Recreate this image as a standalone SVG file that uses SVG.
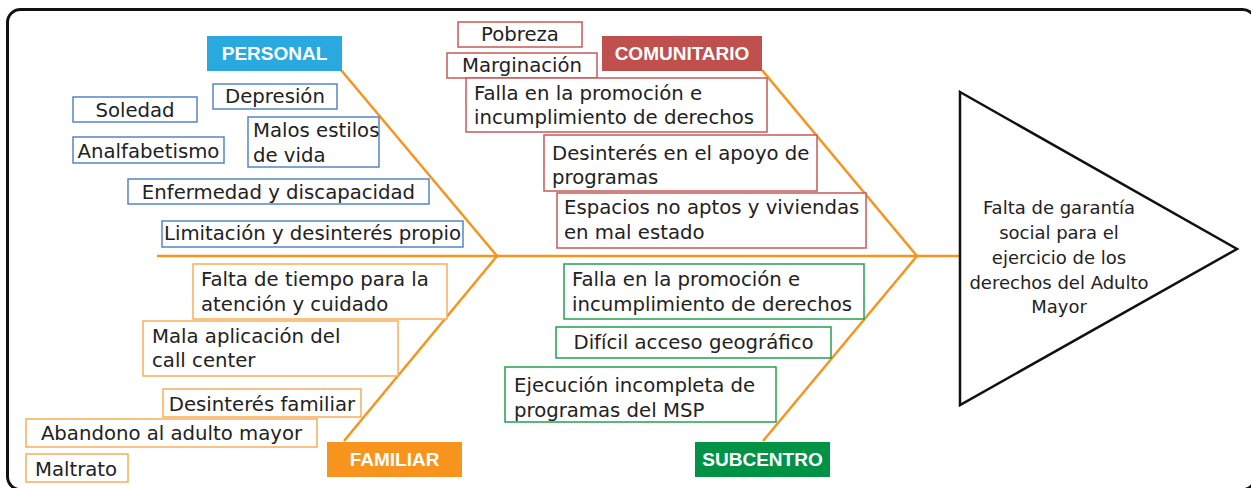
<svg xmlns="http://www.w3.org/2000/svg" width="1251" height="488" viewBox="0 0 1251 488">
<style>
.t{font-family:"DejaVu Sans","Liberation Sans",sans-serif;font-size:19.7px;fill:#222}
.c{text-anchor:middle}
.h{font-family:"Liberation Sans","DejaVu Sans",sans-serif;font-size:19px;font-weight:bold;fill:#fff;text-anchor:middle}
.b{fill:#fff;stroke:#5585c5;stroke-width:1.5}
.r{fill:#fff;stroke:#c55a58;stroke-width:1.5}
.o{fill:#fff;stroke:#f8ae58;stroke-width:1.5}
.g{fill:#fff;stroke:#22a050;stroke-width:1.5}
.bone{stroke:#f7941d;stroke-width:2.5;fill:none}
</style>
<rect x="0" y="0" width="1251" height="488" fill="#fff"/>
<rect x="7.5" y="9.5" width="1248" height="480" rx="13" fill="none" stroke="#111" stroke-width="3"/>
<g id="connectors">
<line class="bone" x1="157" y1="256" x2="960" y2="256"/>
<line class="bone" x1="341" y1="70" x2="497" y2="256"/>
<line class="bone" x1="497" y1="256" x2="344" y2="441"/>
<line class="bone" x1="762" y1="70" x2="917" y2="256"/>
<line class="bone" x1="917" y1="256" x2="763" y2="441"/>
</g>
<g id="efecto">
<polygon points="960,92 1237,249 960,405" fill="#fff" stroke="#111" stroke-width="2.5"/>
<text class="t c" style="font-size:18px" x="1059"><tspan x="1059" y="214">Falta de garantía</tspan><tspan x="1059" y="239">social para el</tspan><tspan x="1059" y="264">ejercicio de los</tspan><tspan x="1059" y="289">derechos del Adulto</tspan><tspan x="1059" y="313">Mayor</tspan></text>
</g>
<g id="personal">
<rect x="207" y="36" width="135" height="35" fill="#29a9e0"/>
<text class="h" x="274.5" y="60">PERSONAL</text>
</g>
<g id="comunitario">
<rect x="602" y="36" width="160" height="35" fill="#c0504d"/>
<text class="h" x="682" y="60">COMUNITARIO</text>
</g>
<g id="familiar">
<rect x="327" y="442" width="135" height="35" fill="#f7941d"/>
<text class="h" x="394.5" y="466">FAMILIAR</text>
</g>
<g id="subcentro">
<rect x="695" y="442" width="135" height="35" fill="#009245"/>
<text class="h" x="762.5" y="466">SUBCENTRO</text>
</g>
<g id="soledad"><rect class="b" x="73" y="97" width="124" height="25"/><text class="t c" x="135" y="117">Soledad</text></g>
<g id="depresion"><rect class="b" x="213" y="84" width="124" height="25"/><text class="t c" x="275" y="103">Depresión</text></g>
<g id="analfabetismo"><rect class="b" x="73" y="137" width="151" height="26"/><text class="t c" x="148.5" y="157.5">Analfabetismo</text></g>
<g id="malos-estilos"><rect class="b" x="248" y="117" width="131" height="50"/><text class="t"><tspan x="253" y="137">Malos estilos</tspan><tspan x="253" y="161.5">de vida</tspan></text></g>
<g id="enfermedad"><rect class="b" x="128" y="179" width="301" height="25"/><text class="t c" x="278.5" y="199">Enfermedad y discapacidad</text></g>
<g id="limitacion"><rect class="b" x="162" y="221" width="301" height="26"/><text class="t c" x="312.5" y="239.5">Limitación y desinterés propio</text></g>
<g id="pobreza"><rect class="r" x="458" y="22" width="124" height="25"/><text class="t c" x="520" y="40.5">Pobreza</text></g>
<g id="marginacion"><rect class="r" x="447" y="53" width="150" height="25"/><text class="t c" x="522" y="71.5">Marginación</text></g>
<g id="falla-com"><rect class="r" x="466" y="78" width="301" height="54"/><text class="t"><tspan x="474" y="100">Falla en la promoción e</tspan><tspan x="474" y="124">incumplimiento de derechos</tspan></text></g>
<g id="desinteres-prog"><rect class="r" x="544" y="135" width="273" height="56"/><text class="t"><tspan x="552" y="160">Desinterés en el apoyo de</tspan><tspan x="552" y="184">programas</tspan></text></g>
<g id="espacios"><rect class="r" x="557" y="193" width="309" height="55"/><text class="t"><tspan x="564" y="214">Espacios no aptos y viviendas</tspan><tspan x="564" y="239">en mal estado</tspan></text></g>
<g id="falta-tiempo"><rect class="o" x="193" y="264" width="254" height="55"/><text class="t"><tspan x="201" y="285.5">Falta de tiempo para la</tspan><tspan x="201" y="311">atención y cuidado</tspan></text></g>
<g id="mala-aplicacion"><rect class="o" x="143" y="321" width="255" height="55"/><text class="t"><tspan x="152" y="342.5">Mala aplicación del</tspan><tspan x="152" y="367">call center</tspan></text></g>
<g id="desinteres-familiar"><rect class="o" x="163" y="389" width="198" height="28"/><text class="t c" x="262" y="410.5">Desinterés familiar</text></g>
<g id="abandono"><rect class="o" x="26" y="419" width="291" height="28"/><text class="t c" x="171.5" y="440">Abandono al adulto mayor</text></g>
<g id="maltrato"><rect class="o" x="26" y="454" width="102" height="28"/><text class="t c" x="76" y="476">Maltrato</text></g>
<g id="falla-sub"><rect class="g" x="564" y="264" width="300" height="55"/><text class="t"><tspan x="572" y="285.5">Falla en la promoción e</tspan><tspan x="572" y="311">incumplimiento de derechos</tspan></text></g>
<g id="dificil-acceso"><rect class="g" x="556" y="327" width="275" height="31"/><text class="t c" x="693.5" y="349">Difícil acceso geográfico</text></g>
<g id="ejecucion"><rect class="g" x="505" y="367" width="271" height="55"/><text class="t"><tspan x="514" y="391.5">Ejecución incompleta de</tspan><tspan x="514" y="416.5">programas del MSP</tspan></text></g>
</svg>
